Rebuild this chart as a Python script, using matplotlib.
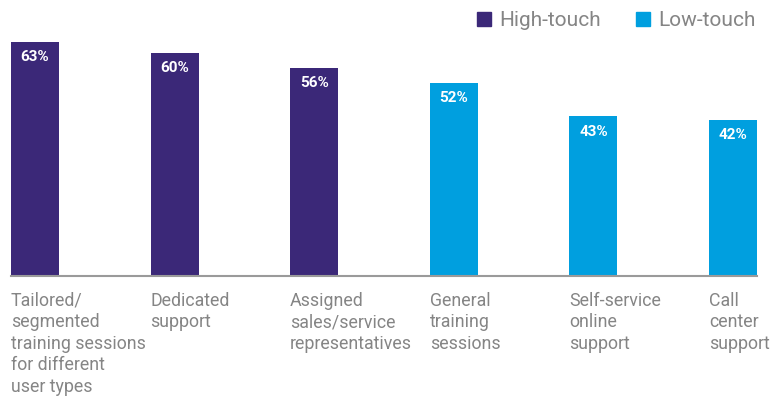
import matplotlib.pyplot as plt
from matplotlib.lines import Line2D

categories = [
    "Tailored/\nsegmented\ntraining sessions\nfor different\nuser types",
    "Dedicated\nsupport",
    "Assigned\nsales/service\nrepresentatives",
    "General\ntraining\nsessions",
    "Self-service\nonline\nsupport",
    "Call\ncenter\nsupport",
]
values = [63, 60, 56, 52, 43, 42]
groups = ["High-touch", "High-touch", "High-touch", "Low-touch", "Low-touch", "Low-touch"]

COLORS = {"High-touch": "#3b2878", "Low-touch": "#009fdf"}
GREY = "#858585"

plt.rcParams["font.family"] = ["Roboto", "DejaVu Sans"]

W, H = 781, 400
fig = plt.figure(figsize=(W / 100, H / 100), dpi=100)
# axes spans from first bar's left edge to last bar's right edge
ax = fig.add_axes([11 / W, (H - 276) / H, 746 / W, 234 / H])

width = 0.344
xs = list(range(len(values)))
ax.bar(xs, values, width=width, color=[COLORS[g] for g in groups])
ax.set_xlim(-width / 2, xs[-1] + width / 2)
ax.set_ylim(0, 63)

for x, v in zip(xs, values):
    ax.annotate(f"{v}%", (x, v), xytext=(0, -11), textcoords="offset points",
                ha="center", va="center", color="white", fontsize=11,
                fontweight="bold")

for x, lab in zip(xs, categories):
    ax.annotate(lab, (x - width / 2, 0), xytext=(0, -11.5), textcoords="offset points",
                ha="left", va="top", color=GREY, fontsize=12.8, linespacing=1.25)

for s in ["top", "right", "left"]:
    ax.spines[s].set_visible(False)
ax.spines["bottom"].set_color("#9a9a9a")
ax.spines["bottom"].set_linewidth(1.5)
ax.set_xticks([])
ax.set_yticks([])

handles = [Line2D([], [], marker="s", linestyle="", markersize=10, color=COLORS[g])
           for g in ["High-touch", "Low-touch"]]
leg = fig.legend(handles, ["High-touch", "Low-touch"], loc="center right",
                 bbox_to_anchor=(0.968, (H - 21) / H), ncol=2, frameon=False,
                 fontsize=15, handletextpad=0.25, columnspacing=1.5,
                 handlelength=1.0, borderaxespad=0, borderpad=0)
for t in leg.get_texts():
    t.set_color(GREY)

fig.savefig("out.png", dpi=100)
